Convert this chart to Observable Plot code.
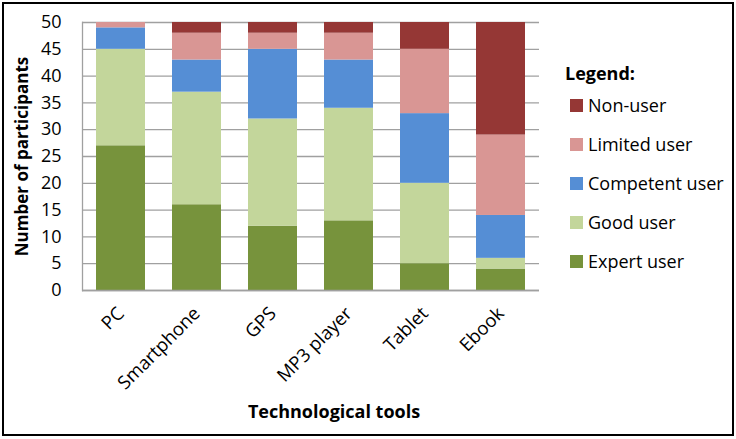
<!DOCTYPE html>
<html><head><meta charset="utf-8">
<script src="https://cdn.jsdelivr.net/npm/d3@7"></script>
<script src="https://cdn.jsdelivr.net/npm/@observablehq/plot@0.6"></script>
<style>
body{margin:0;background:#fff;}
#wrap{position:relative;width:736px;height:439px;font-family:"Open Sans",sans-serif;}
#frame{position:absolute;left:2px;top:2px;width:732px;height:434px;box-sizing:border-box;border:2px solid #000;pointer-events:none;}
#legend{position:absolute;left:565px;top:60px;color:#000;font-size:18px;}
#legend .title{font-weight:bold;height:26px;line-height:26px;}
#legend .item{height:39px;line-height:39px;display:flex;align-items:center;}
#legend .sw{width:13px;height:13px;margin-left:5px;margin-right:5px;}
</style></head>
<body><div id="wrap"><div id="chart"></div><div id="legend"></div><div id="frame"></div></div>
<script>
const tools = ["PC","Smartphone","GPS","MP3 player","Tablet","Ebook"];
const levels = ["Expert user","Good user","Competent user","Limited user","Non-user"];
const colors = ["#77933C","#C3D69B","#558ED5","#D99694","#953735"];
const expert = [27,16,12,13,5,4];
const good = [18,21,20,21,15,2];
const competent = [4,6,13,9,13,8];
const limited = [1,5,3,5,12,15];
const nonUser = [0,2,2,2,5,21];
const yTicks = [0,5,10,15,20,25,30,35,40,45,50];
const legendOrder = ["Non-user","Limited user","Competent user","Good user","Expert user"];
const xTitle = "Technological tools";
const yTitle = "Number of participants";

const series = [expert, good, competent, limited, nonUser];
const data = tools.flatMap((t,i)=>levels.map((l,j)=>({tool:t, level:l, value:series[j][i]})));

const chart = Plot.plot({
  width:736, height:439,
  marginLeft:82, marginRight:197, marginTop:22, marginBottom:149,
  style:{fontFamily:"Open Sans, sans-serif", fontSize:"18px", color:"#000", background:"transparent", overflow:"visible"},
  x:{domain:tools, paddingInner:0.36, paddingOuter:0.18},
  y:{domain:[0,50]},
  color:{domain:levels, range:colors},
  marks:[
    Plot.gridY(yTicks,{stroke:"#a0a0a0", strokeOpacity:1, strokeWidth:1.3}),
    Plot.frame({anchor:"left", stroke:"#a0a0a0", strokeWidth:1.3}),
    Plot.barY(data, Plot.stackY({x:"tool", y:"value", fill:"level", order:levels})),
    Plot.ruleY([0],{stroke:"#a0a0a0", strokeWidth:1.3}),
    Plot.axisY({ticks:yTicks, tickSize:0, tickPadding:21, fontSize:18, label:null}),
    Plot.text([yTitle],{frameAnchor:"left", rotate:-90, textAnchor:"middle", dx:-60, fontSize:17, fontWeight:"bold", fill:"#000"}),
    Plot.axisX({tickRotate:-45, tickSize:0, tickPadding:20, fontSize:18.5, label:null}),
    Plot.text([xTitle],{frameAnchor:"bottom", dx:23, dy:127, fontSize:18, fontWeight:"bold", fill:"#000"})
  ]
});
document.getElementById("chart").appendChild(chart);

const lg = document.getElementById("legend");
const title = document.createElement("div"); title.className="title"; title.textContent="Legend:"; lg.appendChild(title);
legendOrder.forEach(l=>{
  const it=document.createElement("div"); it.className="item";
  const sw=document.createElement("span"); sw.className="sw"; sw.style.background=colors[levels.indexOf(l)];
  const tx=document.createElement("span"); tx.textContent=l;
  it.appendChild(sw); it.appendChild(tx); lg.appendChild(it);
});
</script></body></html>
